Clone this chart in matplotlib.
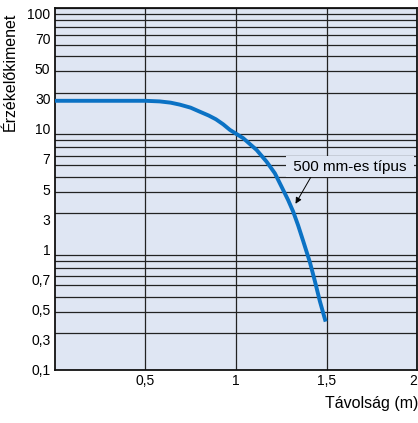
import numpy as np
import matplotlib
matplotlib.use("Agg")
import matplotlib.pyplot as plt
from matplotlib.ticker import LogLocator, NullFormatter

plt.rcParams["font.family"] = ["Liberation Sans", "DejaVu Sans"]

# curve
dist = [0.0, 0.5, 0.58, 0.64, 0.69, 0.75, 0.80, 0.85, 0.89, 0.93, 0.967, 1.04,
        1.114, 1.169, 1.215, 1.252, 1.288, 1.316, 1.343, 1.371, 1.408, 1.436,
        1.463, 1.495]
signal = [17.1, 17.1, 16.9, 16.5, 15.9, 15.0, 13.9, 12.9, 12.0, 10.9, 9.8, 8.37,
          6.68, 5.34, 4.27, 3.30, 2.56, 2.05, 1.58, 1.17, 0.78, 0.54,
          0.37, 0.25]

x_ticks = [0.5, 1, 1.5, 2]
x_tick_labels = ["0,5", "1", "1,5", "2"]
# the printed y labels sit at quarter-decade steps, not at their values
y_tick_exps = [-1, -0.75, -0.5, -0.25, 0, 0.25, 0.5, 0.75, 1, 1.25, 1.5, 1.75, 1.96]
y_tick_labels = ["0,1", "0,3", "0,5", "0,7", "1", "3", "5", "7",
                 "10", "30", "50", "70", "100"]

bg = "#dfe6f3"
blue = "#0b72c4"

fig = plt.figure(figsize=(4.18, 4.23), dpi=100)
ax = fig.add_axes([54.6 / 418, 53.5 / 423, 362.6 / 418, 361 / 423])
ax.set_facecolor(bg)
ax.set_yscale("log")
ax.set_xlim(0, 2)
ax.set_ylim(0.1, 100)

ax.yaxis.set_minor_locator(LogLocator(base=10, subs=np.arange(1, 10)))
ax.yaxis.set_minor_formatter(NullFormatter())
ax.set_yticks([10 ** e for e in y_tick_exps])
ax.set_yticklabels(y_tick_labels)
ax.set_xticks(x_ticks)
ax.set_xticklabels(x_tick_labels)
ax.get_xticklabels()[-1].set_ha("right")
ax.tick_params(which="both", length=0, labelsize=10, colors="black")
ax.tick_params(axis="y", pad=3)
ax.tick_params(axis="x", pad=3)

ax.grid(False)
ax.grid(True, axis="y", which="minor", color="#222222", lw=0.9)
ax.grid(True, axis="x", which="major", color="#222222", lw=0.9)
ax.set_axisbelow(True)

for s in ax.spines.values():
    s.set_linewidth(1.3)
    s.set_color("#111111")

ax.plot(dist, signal, color=blue, lw=2.8, solid_capstyle="butt",
        solid_joinstyle="round", zorder=3)

ax.annotate(" 500 mm-es típus ", xy=(1.325, 2.33), xytext=(1.628, 4.85),
            ha="center", va="center", fontsize=11,
            bbox=dict(boxstyle="square,pad=0.22", fc=bg, ec="none"),
            arrowprops=dict(arrowstyle="-|>", color="black", lw=0.7,
                            mutation_scale=9, relpos=(0.2, 0.05),
                            shrinkA=0, shrinkB=1),
            zorder=4)

fig.text(10.5 / 418, 1 - 71.5 / 423, "Érzékelőkimenet", rotation=90,
         ha="center", va="center", fontsize=11.5)
fig.text(418 / 418, 1 - 408 / 423, "Távolság (m)", ha="right",
         va="baseline", fontsize=11.5)

fig.savefig("out.png", dpi=100)
